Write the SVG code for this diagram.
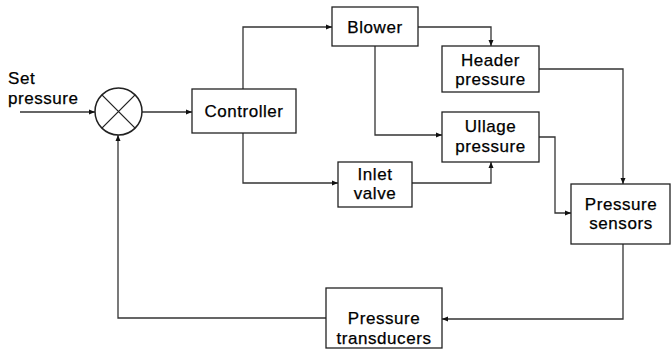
<svg xmlns="http://www.w3.org/2000/svg" width="671" height="350" viewBox="0 0 671 350">
  <defs>
    <marker id="arr" markerUnits="userSpaceOnUse" markerWidth="8" markerHeight="8" refX="6" refY="3" orient="auto">
      <path d="M0,0.5 L6,3 L0,5.5 z" fill="#111"/>
    </marker>
    <style>
      .box { fill: #fff; stroke: #222; stroke-width: 1.3; }
      .conn { fill: none; stroke: #333; stroke-width: 1.3; marker-end: url(#arr); }
      .plain { fill: none; stroke: #222; stroke-width: 1.3; }
      text { font-family: "Liberation Sans", Arial, sans-serif; font-size: 17px; fill: #000; stroke: #000; stroke-width: 0.25px; letter-spacing: 0.55px; }
      .c { text-anchor: middle; }
    </style>
  </defs>
  <rect width="671" height="350" fill="#fff"/>

  <g id="connectors">
    <path class="conn" d="M20,112 H95"/>
    <path class="conn" d="M142,112 H192"/>
    <path class="conn" d="M243,89 V27 H332"/>
    <path class="conn" d="M243,133 V183 H338"/>
    <path class="conn" d="M418,27 H491 V46"/>
    <path class="conn" d="M375,46 V135 H442"/>
    <path class="conn" d="M412,183 H491 V162"/>
    <path class="conn" d="M539,69 H623 V184"/>
    <path class="conn" d="M539,137 H555 V213 H571"/>
    <path class="conn" d="M623,244 V319 H442"/>
    <path class="conn" d="M326,318 H118 V135"/>
  </g>

  <g id="set-pressure">
    <text x="8" y="84">Set</text>
    <text x="8" y="104">pressure</text>
  </g>

  <g id="summing-junction">
    <circle cx="118.5" cy="111.5" r="23.5" fill="#fff" stroke="#222" stroke-width="1.5"/>
    <path class="plain" d="M101.9,94.9 L135.1,128.1 M135.1,94.9 L101.9,128.1"/>
  </g>

  <g id="controller">
    <rect class="box" x="192" y="89" width="104" height="44"/>
    <text class="c" x="244" y="117">Controller</text>
  </g>

  <g id="blower">
    <rect class="box" x="332" y="7" width="86" height="39"/>
    <text class="c" x="375" y="33">Blower</text>
  </g>

  <g id="header-pressure">
    <rect class="box" x="442" y="46" width="97" height="46"/>
    <text class="c" x="490.5" y="66">Header</text>
    <text class="c" x="490.5" y="85">pressure</text>
  </g>

  <g id="ullage-pressure">
    <rect class="box" x="442" y="112" width="97" height="50"/>
    <text class="c" x="490.5" y="132">Ullage</text>
    <text class="c" x="490.5" y="152">pressure</text>
  </g>

  <g id="inlet-valve">
    <rect class="box" x="338" y="162" width="74" height="45"/>
    <text class="c" x="375" y="180">Inlet</text>
    <text class="c" x="375" y="199">valve</text>
  </g>

  <g id="pressure-sensors">
    <rect class="box" x="571" y="184" width="99" height="60"/>
    <text class="c" x="621" y="210">Pressure</text>
    <text class="c" x="621" y="229">sensors</text>
  </g>

  <g id="pressure-transducers">
    <rect class="box" x="326" y="288" width="116" height="60"/>
    <text class="c" x="384" y="324">Pressure</text>
    <text class="c" x="384" y="344">transducers</text>
  </g>
</svg>
